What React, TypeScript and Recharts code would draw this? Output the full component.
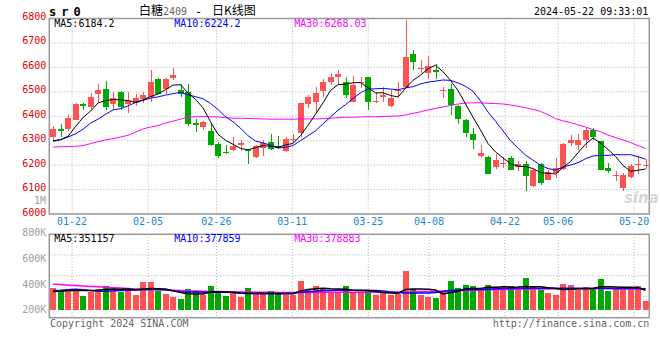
import React from 'react';
import { ComposedChart, Bar, Line, XAxis, YAxis, CartesianGrid } from 'recharts';

const dates = [
  '01-17','01-18','01-19','01-22','01-23','01-24','01-25','01-26','01-29','01-30',
  '01-31','02-01','02-02','02-05','02-06','02-07','02-08','02-19','02-20','02-21',
  '02-22','02-23','02-26','02-27','02-28','02-29','03-01','03-04','03-05','03-06',
  '03-07','03-08','03-11','03-12','03-13','03-14','03-15','03-18','03-19','03-20',
  '03-21','03-22','03-25','03-26','03-27','03-28','03-29','04-01','04-02','04-03',
  '04-08','04-09','04-10','04-11','04-12','04-15','04-16','04-17','04-18','04-19',
  '04-22','04-23','04-24','04-25','04-26','04-29','04-30','05-06','05-07','05-08',
  '05-09','05-10','05-13','05-14','05-15','05-16','05-17','05-20','05-21','05-22',
];
const tickDates = ['01-22','02-05','02-26','03-11','03-25','04-08','04-22','05-06','05-20'];

const open = [
  6315,6349,6349,6385,6450,6438,6490,6511,6450,6500,
  6450,6455,6470,6480,6551,6510,6557,6507,6500,6374,
  6358,6338,6288,6255,6261,6281,6261,6232,6270,6295,
  6280,6257,6301,6331,6451,6458,6503,6540,6561,6540,
  6459,6538,6561,6460,6480,6442,6505,6520,6653,6592,
  6577,6591,6504,6510,6442,6385,6328,6236,6235,6193,
  6203,6230,6193,6203,6115,6203,6139,6169,6185,6291,
  6281,6304,6342,6297,6189,6155,6108,6150,6200,6198,
];
const high = [
  6362,6368,6404,6455,6455,6496,6532,6543,6500,6502,
  6499,6493,6500,6591,6555,6555,6599,6530,6530,6389,
  6381,6368,6296,6284,6317,6304,6264,6284,6304,6328,
  6320,6315,6327,6455,6486,6520,6551,6579,6588,6561,
  6565,6561,6562,6500,6520,6507,6540,6795,6673,6631,
  6645,6615,6518,6531,6445,6387,6350,6284,6237,6247,
  6234,6239,6216,6216,6185,6210,6180,6230,6290,6324,
  6327,6355,6350,6298,6210,6176,6169,6203,6236,6226,
];
const low = [
  6301,6317,6338,6383,6426,6430,6455,6426,6426,6426,
  6415,6442,6453,6459,6490,6493,6547,6480,6362,6334,
  6345,6280,6230,6247,6257,6257,6203,6230,6236,6261,
  6264,6254,6291,6315,6433,6419,6480,6527,6534,6473,
  6457,6515,6426,6453,6459,6437,6480,6514,6588,6577,
  6554,6554,6476,6405,6369,6317,6264,6230,6162,6185,
  6189,6180,6176,6094,6112,6118,6139,6149,6182,6277,
  6261,6270,6301,6180,6166,6135,6094,6149,6162,6185,
];
const close = [
  6349,6339,6393,6451,6442,6480,6507,6438,6474,6438,
  6463,6474,6486,6540,6493,6551,6568,6493,6369,6364,
  6376,6284,6236,6249,6280,6292,6257,6280,6291,6266,
  6270,6308,6308,6453,6478,6496,6540,6561,6572,6486,
  6527,6541,6459,6464,6489,6473,6508,6642,6622,6596,
  6604,6581,6506,6445,6390,6330,6304,6250,6165,6219,
  6210,6182,6203,6155,6180,6125,6170,6189,6288,6303,
  6304,6345,6315,6182,6175,6161,6160,6195,6205,6200,
];
const ma5 = [
  6300,6304,6318,6358,6394.8,6421,6454.6,6463.6,6468.2,6467.4,
  6464,6457.4,6467,6480.2,6491.2,6508.8,6527.6,6529,6494.8,6469,
  6434,6377.2,6325.8,6301.8,6285,6268.2,6262.8,6271.6,6280,6277.2,
  6272.8,6283,6288.6,6321,6363.4,6408.6,6455,6505.6,6529.4,6531,
  6537.2,6537.4,6517,6495.4,6496,6485.2,6478.6,6515.2,6546.8,6568.2,
  6594.4,6609,6581.8,6546.4,6505.2,6450.4,6395,6343.8,6287.8,6253.6,
  6229.6,6205.2,6195.8,6193.8,6186,6169,6166.6,6163.8,6190.4,6215,
  6250.8,6285.8,6311,6289.8,6264.2,6235.6,6198.6,6174.6,6179.2,6184.2,
];
const ma10 = [
  6297,6304,6315,6328,6347,6372,6388,6408,6426,6431.1,
  6442.5,6456,6465.3,6474.2,6479.3,6486.4,6492.5,6498,6487.5,6480.1,
  6471.4,6452.4,6427.4,6398.3,6377,6351.1,6320,6298.7,6290.9,6281.1,
  6270.5,6272.9,6280.1,6300.5,6320.3,6340.7,6369,6397.1,6425.2,6447.2,
  6472.9,6496.2,6511.3,6512.4,6513.5,6511.2,6508,6516.1,6521.1,6532.1,
  6539.8,6543.8,6548.5,6546.6,6536.7,6522.4,6502,6462.8,6417.1,6379.4,
  6340,6300.1,6269.8,6240.8,6219.8,6199.3,6185.9,6179.8,6192.1,6200.5,
  6209.9,6226.2,6237.4,6240.1,6239.6,6243.2,6242.2,6242.8,6234.5,6224.2,
];
const ma30 = [
  6274,6275,6276,6277,6280,6288,6296,6303,6308,6315,
  6322,6335,6348,6356,6362,6372,6380,6388,6396,6398,
  6399,6398,6397,6394,6392,6392,6391,6390,6389,6388,
  6388,6388,6388,6389,6389,6389,6390,6392,6394,6396,
  6396,6397,6398,6398,6399,6400,6401,6405,6412,6418,
  6426,6432,6438,6444,6450,6454,6455,6455,6453,6452,
  6450,6446,6441,6435,6428,6420,6406,6390,6381,6374,
  6365,6356,6345,6337,6323,6313,6303,6292,6280,6268.03,
];
// volume, in thousands of lots
const volume = [
  390,331,373,361,256,326,373,430,361,320,
  361,273,488,488,338,286,239,204,378,343,
  261,430,314,256,314,239,395,314,291,343,
  296,273,273,517,348,430,390,303,320,418,
  314,314,361,261,343,261,286,679,373,261,
  240,218,320,510,385,440,420,355,440,400,
  355,420,355,560,420,355,305,268,455,440,
  361,400,380,540,340,375,395,395,430,161,
];
const volMa5 = [
  330,332,345,352,345,348,352,365,372,370,
  372,360,372,380,378,372,340,310,290,285,
  285,320,325,320,318,305,300,298,300,298,
  296,294,292,340,365,375,385,375,372,370,
  350,348,345,332,312,305,300,366,373,372,
  370,355,285,310,335,375,380,382,405,405,
  410,405,408,415,410,410,395,380,362,368,
  375,378,380,410,410,407,404,404,400,351,
];
const volMa10 = [
  348,350,360,370,360,345,335,333,340,345,
  350,355,360,362,362,358,340,325,320,320,
  318,318,318,317,312,300,295,292,290,290,
  290,292,300,315,325,335,345,348,350,350,
  350,350,348,345,340,320,310,305,305,305,
  305,310,330,345,355,360,362,365,370,375,
  380,383,385,385,386,386,385,385,384,384,
  384,385,385,385,384,383,382,382,380,378,
];
const volMa30 = [
  455,450,440,432,425,418,410,402,395,388,
  380,374,368,364,360,356,350,345,340,336,
  333,330,328,326,324,322,320,318,316,314,
  312,311,310,311,312,313,314,315,316,317,
  318,318,318,318,318,318,318,322,325,328,
  330,333,336,340,344,348,352,356,360,363,
  366,368,370,372,373,374,374,375,375,376,
  376,377,377,378,378,378,379,379,379,379,
];
const priceTicks = [6000, 6100, 6200, 6300, 6400, 6500, 6600, 6700, 6800];
const volTicks = [200, 400, 600, 800];
const mainLegend = ['MA5:6184.2', 'MA10:6224.2', 'MA30:6268.03'];
const volLegend = ['MA5:351157', 'MA10:377859', 'MA30:378883'];

const RED = '#ff5252';
const GREEN = '#00a800';
const MONO = "'DejaVu Sans Mono', 'Liberation Mono', monospace";
const CJK = "'Noto Sans CJK SC', sans-serif";

const rows = dates.map((d, i) => ({
  idx: i,
  date: d,
  open: open[i],
  high: high[i],
  low: low[i],
  close: close[i],
  ma5: ma5[i],
  ma10: ma10[i],
  ma30: ma30[i],
  vol: volume[i],
  vma5: volMa5[i],
  vma10: volMa10[i],
  vma30: volMa30[i],
}));
const tickIdx = tickDates.map((d) => dates.indexOf(d));

const Candle = (props: any) => {
  const { x, y, width, height, payload } = props;
  if (x == null || y == null) return null;
  const top = Math.min(y, y + height);
  const bot = Math.max(y, y + height);
  const range = payload.high - payload.low || 1;
  const k = (bot - top) / range;
  const yo = top + (payload.high - payload.open) * k;
  const yc = top + (payload.high - payload.close) * k;
  const up = payload.close >= payload.open;
  const color = up ? RED : GREEN;
  const rx = Math.round(x + width / 2 - 3);
  const bt = Math.round(Math.min(yo, yc));
  const bb = Math.round(Math.max(yo, yc));
  const wt = Math.round(top);
  const wb = Math.round(bot);
  return (
    <g>
      <rect x={rx + 3} y={wt} width={1} height={Math.max(1, wb - wt)} fill={color} />
      <rect x={rx} y={bt} width={6} height={Math.max(1, bb - bt)} fill={color} />
    </g>
  );
};

const VolBar = (props: any) => {
  const { x, y, width, height, payload } = props;
  if (x == null || y == null) return null;
  const up = payload.close >= payload.open;
  const rx = Math.round(x + width / 2 - 3);
  const t = Math.round(Math.min(y, y + height));
  const b = Math.round(Math.max(y, y + height));
  return <rect x={rx} y={t} width={6} height={Math.max(1, b - t)} fill={up ? RED : GREEN} />;
};

const PriceTick = (props: any) => {
  const { x, y, payload } = props;
  return (
    <text x={x} y={y - 2} textAnchor="end" dominantBaseline="central" fill="#e60000" fontSize={10} fontFamily={MONO}>
      {payload.value}
    </text>
  );
};

const VolTick = (props: any) => {
  const { x, y, payload } = props;
  return (
    <text x={x} y={y - 2.5} textAnchor="end" dominantBaseline="central" fill="#a0a0a0" fontSize={10} fontFamily={MONO}>
      {payload.value + 'K'}
    </text>
  );
};

const DateTick = (props: any) => {
  const { x, y, payload } = props;
  return (
    <text x={x} y={y + 5} textAnchor="middle" dominantBaseline="central" fill="#1a86d0" fontSize={10} fontFamily={MONO}>
      {dates[payload.value]}
    </text>
  );
};

const NoTick = () => <g />;

const gridStroke = '#b0b0b0';

export default function App() {
  return (
    <div style={{ position: 'absolute', left: 0, top: 0, width: 660, height: 360, background: '#fff', overflow: 'hidden' }}>
      <div style={{ position: 'absolute', left: 0, top: 0 }}>
        <ComposedChart width={660} height={231} data={rows} margin={{ top: 18.5, right: 10.7, bottom: 0, left: 0 }}>
          <CartesianGrid xAxisId="g" yAxisId="p" stroke={gridStroke} strokeDasharray="1 2" />
          <XAxis
            xAxisId="g"
            dataKey="idx"
            type="number"
            domain={[0, 79]}
            ticks={tickIdx}
            interval={0}
            tick={DateTick}
            axisLine={false}
            tickLine={false}
            tickSize={0}
            tickMargin={2}
            height={17}
            allowDataOverflow
          />
          <XAxis xAxisId="c" dataKey="idx" type="number" domain={[-0.5, 79.5]} hide height={0} allowDataOverflow />
          <YAxis
            yAxisId="p"
            type="number"
            domain={[6000, 6800]}
            ticks={priceTicks}
            interval={0}
            width={49.3}
            tick={PriceTick}
            axisLine={false}
            tickLine={false}
            tickSize={0}
            tickMargin={3}
            allowDataOverflow
          />
          <Bar xAxisId="c" yAxisId="p" dataKey={(r: any) => [r.low, r.high]} shape={Candle} barSize={6} isAnimationActive={false} />
          <Line xAxisId="c" yAxisId="p" type="linear" dataKey="ma30" stroke="#ff00ff" strokeWidth={1} dot={false} isAnimationActive={false} />
          <Line xAxisId="c" yAxisId="p" type="linear" dataKey="ma10" stroke="#0000ff" strokeWidth={1} dot={false} isAnimationActive={false} />
          <Line xAxisId="c" yAxisId="p" type="linear" dataKey="ma5" stroke="#000000" strokeWidth={1} dot={false} isAnimationActive={false} />
        </ComposedChart>
      </div>
      <div style={{ position: 'absolute', left: 0, top: 224.3 }}>
        <ComposedChart width={660} height={93.4} data={rows} margin={{ top: 10, right: 10.7, bottom: 0, left: 0 }}>
          <CartesianGrid xAxisId="g" yAxisId="v" horizontalPoints={[30.85, 51.7, 72.55]} stroke={gridStroke} strokeDasharray="1 2" />
          <XAxis xAxisId="c" dataKey="idx" type="number" domain={[-0.5, 79.5]} hide height={0} allowDataOverflow />
          <XAxis
            xAxisId="g"
            dataKey="idx"
            type="number"
            domain={[0, 79]}
            ticks={tickIdx}
            interval={0}
            tick={NoTick}
            axisLine={false}
            tickLine={false}
            height={0}
            allowDataOverflow
          />
          <YAxis
            yAxisId="lbl"
            type="number"
            domain={[160, 810]}
            ticks={volTicks}
            interval={0}
            width={49.3}
            tick={VolTick}
            axisLine={false}
            tickLine={false}
            tickSize={0}
            tickMargin={3}
            allowDataOverflow
          />
          <YAxis yAxisId="v" type="number" domain={[-122, 1331]} hide width={0} allowDataOverflow />
          <Bar xAxisId="c" yAxisId="v" dataKey="vol" shape={VolBar} barSize={6} isAnimationActive={false} />
          <Line xAxisId="c" yAxisId="v" type="linear" dataKey="vma30" stroke="#ff00ff" strokeWidth={1.5} dot={false} isAnimationActive={false} />
          <Line xAxisId="c" yAxisId="v" type="linear" dataKey="vma10" stroke="#0000ff" strokeWidth={1.5} dot={false} isAnimationActive={false} />
          <Line xAxisId="c" yAxisId="v" type="linear" dataKey="vma5" stroke="#000000" strokeWidth={1.5} dot={false} isAnimationActive={false} />
        </ComposedChart>
      </div>
      <svg width={660} height={360} style={{ position: 'absolute', left: 0, top: 0, pointerEvents: 'none' }}>
        <rect x={49.3} y={18.5} width={600} height={195.5} fill="none" stroke="#999" strokeWidth={1.5} />
        <rect x={49.3} y={234.3} width={600} height={83.4} fill="none" stroke="#999" strokeWidth={1.5} />
        <text x={49} y={11.5} dominantBaseline="central" fontSize={12} fontWeight="bold" fontFamily={MONO} letterSpacing={5} fill="#000">sr0</text>
        <text x={139} y={15} fontSize={12} fontFamily={CJK} fill="#000">白糖</text>
        <text x={163} y={11.5} dominantBaseline="central" fontSize={10} fontFamily={MONO} fill="#666">2409</text>
        <text x={195} y={11.5} dominantBaseline="central" fontSize={12} fontFamily={MONO} fill="#000">-</text>
        <text x={212} y={15} fontSize={12} fontFamily={CJK} fill="#000">日K线图</text>
        <text x={648.3} y={11.5} textAnchor="end" dominantBaseline="central" fontSize={10} fontFamily={MONO} fill="#000">2024-05-22 09:33:01</text>
        <text x={54.3} y={23.7} dominantBaseline="central" fontSize={10} fontFamily={MONO} fill="#000">{mainLegend[0]}</text>
        <text x={174.3} y={23.7} dominantBaseline="central" fontSize={10} fontFamily={MONO} fill="#0000ff">{mainLegend[1]}</text>
        <text x={294.3} y={23.7} dominantBaseline="central" fontSize={10} fontFamily={MONO} fill="#ff00ff">{mainLegend[2]}</text>
        <text x={54.3} y={238} dominantBaseline="central" fontSize={10} fontFamily={MONO} fill="#000">{volLegend[0]}</text>
        <text x={174.3} y={238} dominantBaseline="central" fontSize={10} fontFamily={MONO} fill="#0000ff">{volLegend[1]}</text>
        <text x={294.3} y={238} dominantBaseline="central" fontSize={10} fontFamily={MONO} fill="#ff00ff">{volLegend[2]}</text>
        <text x={46} y={200} textAnchor="end" dominantBaseline="central" fontSize={10} fontFamily={MONO} fill="#a0a0a0">1M</text>
        <text x={624} y={203} fontSize={15} fontStyle="italic" fontWeight="bold" fontFamily="'DejaVu Sans', sans-serif" fill="#d6d6d6">sina</text>
        <text x={50} y={323.5} dominantBaseline="central" fontSize={10} fontFamily={MONO} fill="#666">Copyright 2024 SINA.COM</text>
        <text x={649.3} y={323.5} textAnchor="end" dominantBaseline="central" fontSize={10} fontFamily={MONO} fill="#666">http://finance.sina.com.cn</text>
      </svg>
    </div>
  );
}
